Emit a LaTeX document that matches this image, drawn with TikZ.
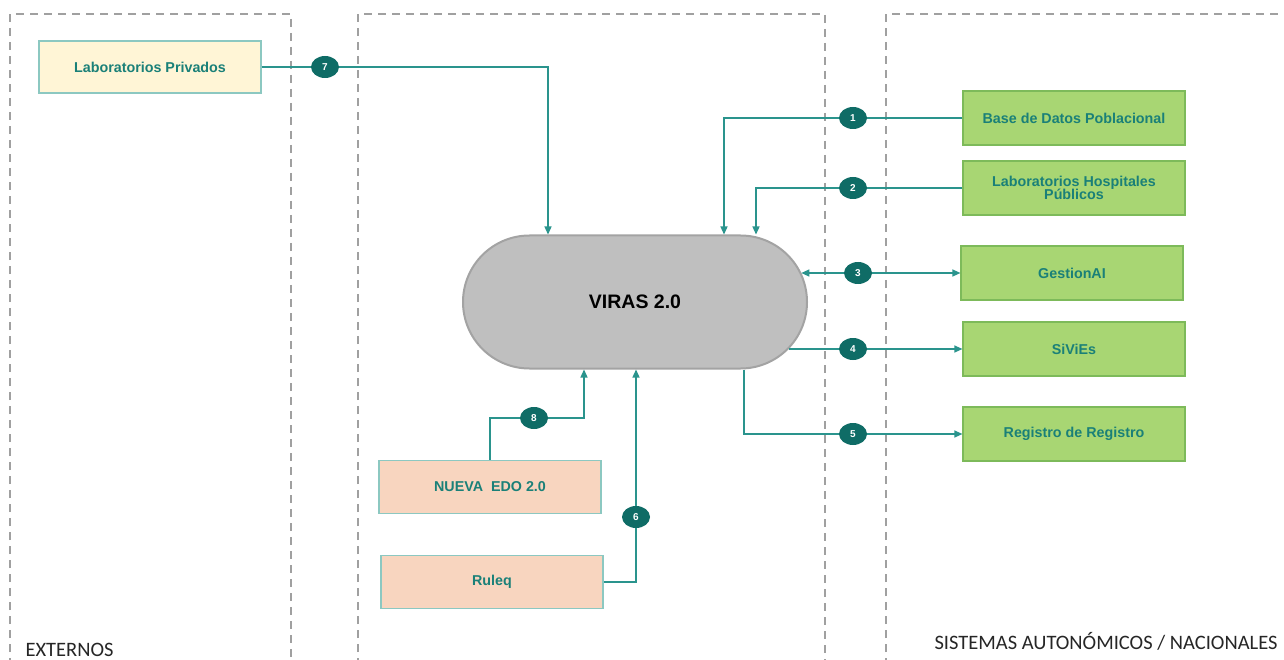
\documentclass[tikz,border=0pt]{standalone}
\usepackage{fontspec}
\setmainfont{Liberation Sans}
\newfontfamily\zonefont{Carlito}
\usetikzlibrary{shapes.misc,shapes.geometric,arrows.meta}
\definecolor{lineteal}{HTML}{2A948D}
\definecolor{badgeteal}{HTML}{0F6C66}
\definecolor{textteal}{HTML}{1A8078}
\definecolor{dashgray}{HTML}{A0A0A0}
\definecolor{greenfill}{HTML}{A8D673}
\definecolor{greenedge}{HTML}{7DBA5A}
\definecolor{yellowfill}{HTML}{FFF5D6}
\definecolor{peachfill}{HTML}{F8D5BF}
\definecolor{softedge}{HTML}{8CC8C1}
\definecolor{virasfill}{HTML}{BFBFBF}
\definecolor{virasedge}{HTML}{A3A3A3}

\begin{document}
\begin{tikzpicture}[x=1pt,y=-1pt,
    panel/.style={draw=dashgray,dash pattern=on 8pt off 6pt,line width=1.4pt},
    boxtext/.style={text=textteal,align=center,font=\fontsize{14.3}{10}\selectfont\bfseries},
    sysbox/.style={boxtext,draw=greenedge,fill=greenfill,line width=1.2pt,minimum width=222pt,minimum height=54pt,inner sep=2pt},
    extbox/.style={boxtext,draw=softedge,fill=yellowfill,line width=1.2pt,minimum width=222pt,minimum height=52pt,inner sep=2pt},
    locbox/.style={boxtext,draw=softedge,fill=peachfill,line width=1.2pt,minimum width=222pt,minimum height=53pt,inner sep=2pt},
    badge/.style={ellipse,fill=badgeteal,text=white,minimum width=28pt,minimum height=22pt,inner sep=0pt,font=\fontsize{10}{10}\selectfont\bfseries},
    zone/.style={font=\zonefont\fontsize{20.5}{20.5}\selectfont,text=black!85},
    flow/.style={draw=lineteal,line width=1.3pt,-{Triangle[length=8pt,width=7pt]}},
    flowboth/.style={draw=lineteal,line width=1.3pt,{Triangle[length=8pt,width=7pt]}-{Triangle[length=8pt,width=7pt]}}]
  \useasboundingbox[fill=white] (0,0) rectangle (1284,660);

  \draw[panel] (10,680) -- (10,14) -- (291,14) -- (291,680);
  \draw[panel] (358,680) -- (358,14) -- (825,14) -- (825,680);
  \draw[panel] (886,680) -- (886,14) -- (1300,14);

  \node[extbox] (labpriv) at (150,67) {Laboratorios Privados};
  \node[sysbox] (base) at (1074,118) {Base de Datos Poblacional};
  \node[sysbox] (lhp) at (1074,188) {Laboratorios Hospitales\\[-1.5pt]P\'ublicos};
  \node[sysbox] (gest) at (1072,273) {GestionAI};
  \node[sysbox] (siv) at (1074,349) {SiViEs};
  \node[sysbox] (reg) at (1074,434) {Registro de Registro};
  \node[locbox] (nedo) at (490,487) {NUEVA\ \ EDO 2.0};
  \node[locbox] (ruleq) at (492,582) {Ruleq};
  \node[rounded rectangle,draw=virasedge,fill=virasfill,line width=2pt,minimum width=344pt,minimum height=133pt,inner sep=0pt,font=\fontsize{19.5}{19.5}\selectfont\bfseries] (viras) at (635,302) {VIRAS 2.0};

  \coordinate (c7) at (325,67);
  \coordinate (c1) at (853,118);
  \coordinate (c2) at (853,188);
  \coordinate (c3) at (858,273);
  \coordinate (c4) at (853,349);
  \coordinate (c5) at (853,434);
  \coordinate (c8) at (534,418);
  \coordinate (c6) at (636,517);

  \draw[flow] (labpriv.east) -- (c7) -| ([xshift=-87pt]viras.north);
  \draw[flow] (base.west) -- (c1) -| ([xshift=89pt]viras.north);
  \draw[flow] (lhp.west) -- (c2) -| ([xshift=121pt]viras.north);
  \draw[flowboth] (viras.10 |- gest.west) -- (gest.west);
  \draw[flow] (viras.-17 |- siv.west) -- (siv.west);
  \draw[flow] ([xshift=109pt]viras.south) |- (reg.west);
  \draw[flow] (nedo.north) |- (c8) -| ([xshift=-51pt]viras.south);
  \draw[flow] (ruleq.east) -| ([xshift=1pt]viras.south);

  \node[badge] (n7) at (c7) {7};
  \node[badge] (n1) at (c1) {1};
  \node[badge] (n2) at (c2) {2};
  \node[badge] (n3) at (c3) {3};
  \node[badge] (n4) at (c4) {4};
  \node[badge] (n5) at (c5) {5};
  \node[badge] (n8) at (c8) {8};
  \node[badge] (n6) at (c6) {6};

  \node[zone,anchor=base west] (ext) at (22,656) {EXTERNOS};
  \node[zone,anchor=base east] (sis) at (1281,649) {SISTEMAS AUTON\'OMICOS / NACIONALES};
\end{tikzpicture}
\end{document}
